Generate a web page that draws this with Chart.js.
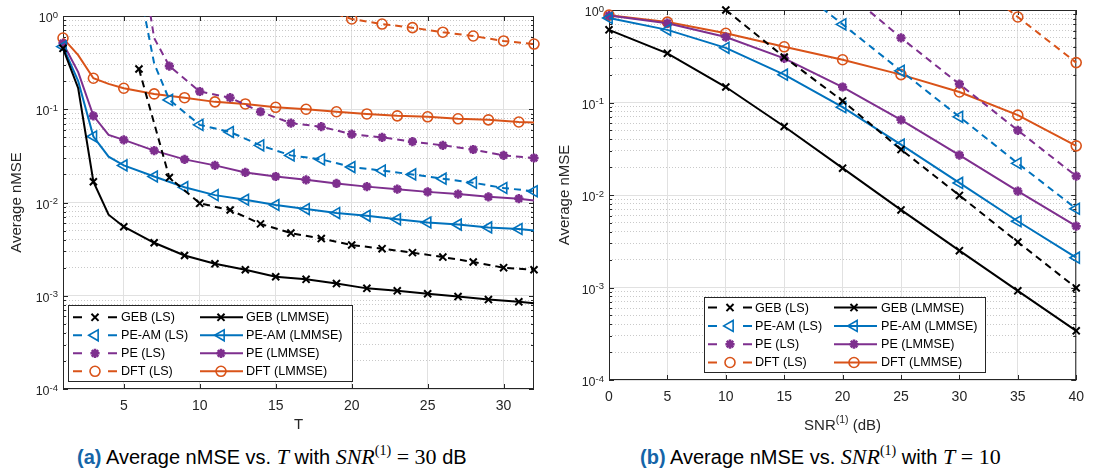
<!DOCTYPE html>
<html>
<head>
<meta charset="utf-8">
<title>Average nMSE</title>
<script src="https://cdn.jsdelivr.net/npm/chart.js@4.4.1/dist/chart.umd.min.js"></script>
<style>
  body { margin: 0; background: #fff; }
  #page { position: relative; width: 1093px; height: 472px; overflow: hidden; background: #fff; }
  .plot { position: absolute; top: 0; height: 440px; }
  .cap { position: absolute; top: 446px; font: 20px 'Liberation Sans', Arial, sans-serif; color: #000; white-space: nowrap; line-height: 22px; }
  .cap b { color: #1565a8; }
  .cap .m { font-family: 'Liberation Serif', 'DejaVu Serif', serif; font-style: italic; font-size: 22px; }
  .cap .s { font-family: 'Liberation Serif', serif; font-size: 14px; position: relative; top: -9px; }
  .cap .r { font-family: 'Liberation Serif', serif; font-size: 22px; }
</style>
</head>
<body>
<div id="page">
  <div class="plot" style="left:0;width:548px"><canvas id="left"></canvas></div>
  <div class="plot" style="left:548px;width:545px"><canvas id="right"></canvas></div>
  <div class="cap" style="left:77px"><b>(a)</b> Average nMSE vs. <span class="m">T</span> with <span class="m">SNR</span><span class="s">(1)</span> <span class="r">= 30</span> dB</div>
  <div class="cap" style="left:640px"><b>(b)</b> Average nMSE vs. <span class="m">SNR</span><span class="s">(1)</span> with <span class="m">T</span> <span class="r">= 10</span></div>
</div>
<script>
// x values
const tValues = [1, 2, 3, 4, 5, 6, 7, 8, 9, 10, 11, 12, 13, 14, 15, 16,
                 17, 18, 19, 20, 21, 22, 23, 24, 25, 26, 27, 28, 29, 30, 31, 32];
const snrValues = [0, 5, 10, 15, 20, 25, 30, 35, 40];

// tick labels
const tTicks = [5, 10, 15, 20, 25, 30];
const snrTicks = [0, 5, 10, 15, 20, 25, 30, 35, 40];
const decadeExps = [-4, -3, -2, -1, 0];

// (a) nMSE vs T, SNR = 30 dB  (null = not read / off the plot)
const gebLsT = [null, null, null, null, null, 0.27, null, 0.0185, null, 0.0098, null, 0.0083, null, 0.0059, null, 0.0047,
                null, 0.0041, null, 0.0035, null, 0.0032, null, 0.0029, null, 0.0026, null, 0.0023, null, 0.0020, null, 0.0019];
const peamLsT = [null, null, null, null, null, 2.1, 0.31, 0.126, null, 0.068, null, 0.057, null, 0.041, null, 0.032,
                 null, 0.029, null, 0.024, null, 0.022, null, 0.020, null, 0.018, null, 0.0163, null, 0.0143, null, 0.0132];
const peLsT = [null, null, null, null, null, 6, 0.58, 0.29, null, 0.155, null, 0.133, null, 0.094, null, 0.071,
               null, 0.065, null, 0.054, null, 0.050, null, 0.045, null, 0.041, null, 0.037, null, 0.032, null, 0.030];
const dftLsT = [null, null, null, null, null, null, null, null, null, null, null, null, null, null, null, null,
                null, null, 1.05, 0.93, null, 0.82, null, 0.75, null, 0.67, null, 0.61, null, 0.54, null, 0.50];
const gebLmmseT = [0.45, 0.168, 0.0167, 0.0074, 0.0055, null, 0.0037, null, 0.0027, null, 0.0022, null, 0.0019, null, 0.0016, null,
                   0.0015, null, 0.00135, null, 0.0012, null, 0.00113, null, 0.00105, null, 0.00098, null, 0.00091, null, 0.00086, 0.00083];
const peamLmmseT = [0.47, 0.20, 0.051, 0.031, 0.025, null, 0.019, null, 0.0146, null, 0.012, null, 0.0107, null, 0.0094, null,
                    0.0085, null, 0.0077, null, 0.0072, null, 0.0066, null, 0.0061, null, 0.0058, null, 0.0054, null, 0.0052, 0.0050];
const peLmmseT = [0.51, 0.25, 0.085, 0.053, 0.047, null, 0.036, null, 0.029, null, 0.025, null, 0.021, null, 0.019, null,
                  0.0175, null, 0.016, null, 0.0148, null, 0.0139, null, 0.013, null, 0.0123, null, 0.0115, null, 0.011, 0.0105];
const dftLmmseT = [0.58, 0.38, 0.215, 0.187, 0.168, null, 0.146, null, 0.133, null, 0.12, null, 0.114, null, 0.105, null,
                   0.10, null, 0.094, null, 0.089, null, 0.085, null, 0.083, null, 0.079, null, 0.077, null, 0.073, 0.072];

// (b) nMSE vs SNR, T = 10
const gebLsS = [null, null, 1.0, 0.31, 0.104, 0.031, 0.0099, 0.0031, 0.00099];
const peamLsS = [null, null, null, 2.2, 0.70, 0.22, 0.070, 0.022, 0.0071];
const peLsS = [null, null, null, null, 1.7, 0.50, 0.158, 0.050, 0.016];
const dftLsS = [null, null, null, null, null, null, 2.6, 0.84, 0.27];
const gebLmmseS = [0.61, 0.34, 0.147, 0.055, 0.0195, 0.0069, 0.0025, 0.00092, 0.00034];
const peamLmmseS = [0.82, 0.61, 0.39, 0.20, 0.089, 0.035, 0.0135, 0.0052, 0.0021];
const peLmmseS = [0.87, 0.72, 0.51, 0.30, 0.147, 0.065, 0.027, 0.011, 0.0046];
const dftLmmseS = [0.88, 0.74, 0.56, 0.40, 0.29, 0.20, 0.13, 0.073, 0.034];

const BLACK = '#000000', BLUE = '#0072BD', PURPLE = '#7E2F8E', ORANGE = '#D95319';
const AXIS = '#262626';
const FONT = "'Liberation Sans', Arial, sans-serif";

const markers = {
    'GEB': { pointStyle: 'crossRot', rotation: 0, radius: 5, width: 2 },
    'PE-AM': { pointStyle: 'triangle', rotation: 270, radius: 6.3, width: 1.6 },
    'PE': { pointStyle: 'star', rotation: 0, radius: 4.6, width: 2.6 },
    'DFT': { pointStyle: 'circle', rotation: 0, radius: 5, width: 1.6 }
};

// 1..9 x 10^k for the log axis
const logTicks = [];
decadeExps.forEach(e => {
    const d = Math.pow(10, e);
    if (e === 0) { logTicks.push(1); return; }
    for (let m = 1; m <= 9; m++) logTicks.push(m * d);
});
const isDecade = v => Math.abs(Math.log10(v) - Math.round(Math.log10(v))) < 1e-6;

function series(method, est, color, values, markAt) {
    const mk = markers[method];
    const over = values.some(v => v !== null && v > 1);
    return {
        label: `${method} (${est})`,
        data: values,
        borderColor: color,
        backgroundColor: 'rgba(0,0,0,0)',
        borderWidth: 2,
        borderDash: est === 'LS' ? [7, 5] : [],
        pointStyle: mk.pointStyle,
        pointRotation: mk.rotation,
        pointRadius: ctx => markAt(ctx.dataIndex) ? mk.radius : 0,
        pointBorderWidth: mk.width,
        pointBorderColor: color,
        pointBackgroundColor: 'rgba(0,0,0,0)',
        spanGaps: true,
        tension: 0,
        clip: over ? { left: 12, top: 0, right: 12, bottom: 12 } : 12
    };
}

// draws the matlab style box, inner ticks, 10^k labels, x title and the legend
const matlabLook = {
    id: 'matlabLook',
    beforeDatasetsDraw(chart) {
        const { ctx, chartArea: a, scales: { x, y } } = chart;
        ctx.save();
        ctx.strokeStyle = AXIS;
        ctx.lineWidth = 1;
        ctx.beginPath();
        x.ticks.forEach(t => {
            const px = Math.round(x.getPixelForValue(t.value)) + 0.5;
            ctx.moveTo(px, a.bottom); ctx.lineTo(px, a.bottom - 5);
            ctx.moveTo(px, a.top); ctx.lineTo(px, a.top + 5);
        });
        y.ticks.forEach(t => {
            const py = Math.round(y.getPixelForValue(t.value)) + 0.5;
            const len = isDecade(t.value) ? 5 : 3;
            ctx.moveTo(a.left, py); ctx.lineTo(a.left + len, py);
            ctx.moveTo(a.right, py); ctx.lineTo(a.right - len, py);
        });
        ctx.stroke();
        ctx.strokeRect(a.left + 0.5, a.top + 0.5, a.width - 1, a.height - 1);
        ctx.restore();
    },
    afterDraw(chart, args, opts) {
        const { ctx, chartArea: a, scales: { y } } = chart;
        ctx.save();
        ctx.fillStyle = AXIS;
        ctx.textAlign = 'left';
        ctx.textBaseline = 'alphabetic';
        decadeExps.forEach(e => {
            const py = y.getPixelForValue(Math.pow(10, e));
            const sup = String(e);
            ctx.font = `9.5px ${FONT}`;
            const sw = ctx.measureText(sup).width;
            const xr = a.left - 5;
            ctx.fillText(sup, xr - sw, py + 1.5);
            ctx.font = `12.5px ${FONT}`;
            const bw = ctx.measureText('10').width;
            ctx.fillText('10', xr - sw - bw, py + 6);
        });

        // x title with a superscript part
        if (opts.xTitle) {
            const [main, sup, rest] = opts.xTitle;
            ctx.font = `15px ${FONT}`;
            const w1 = ctx.measureText(main).width, w3 = ctx.measureText(rest).width;
            ctx.font = `10.5px ${FONT}`;
            const w2 = ctx.measureText(sup).width;
            let xx = (a.left + a.right) / 2 - (w1 + w2 + w3) / 2;
            const base = chart.height - 10;
            ctx.font = `15px ${FONT}`;
            ctx.fillText(main, xx, base);
            ctx.font = `10.5px ${FONT}`;
            ctx.fillText(sup, xx + w1, base - 7);
            ctx.font = `15px ${FONT}`;
            ctx.fillText(rest, xx + w1 + w2, base);
        }

        const L = opts.legend;
        const bx = Math.round(a.left + L.left), by = Math.round(a.top + L.top);
        ctx.fillStyle = '#fff';
        ctx.fillRect(bx, by, L.width, L.height);
        ctx.strokeStyle = AXIS;
        ctx.lineWidth = 1;
        ctx.strokeRect(bx + 0.5, by + 0.5, L.width, L.height);
        chart.data.datasets.forEach((ds, i) => {
            const col = L.cols[Math.floor(i / 4)];
            const yy = by + L.rowTop + L.rowStep * (i % 4);
            const x0 = bx + col.x0, x1 = bx + col.x1;
            ctx.strokeStyle = ds.borderColor;
            ctx.lineWidth = ds.borderWidth;
            ctx.setLineDash([]);
            ctx.beginPath();
            if (ds.borderDash.length) {
                ctx.moveTo(x0, yy); ctx.lineTo(x0 + 9, yy);
                ctx.moveTo(x1 - 9, yy); ctx.lineTo(x1, yy);
            } else {
                ctx.moveTo(x0, yy); ctx.lineTo(x1, yy);
            }
            ctx.stroke();
            const mk = markers[ds.label.split(' ')[0]];
            ctx.lineWidth = mk.width;
            ctx.fillStyle = 'rgba(0,0,0,0)';
            Chart.helpers.drawPoint(ctx, {
                pointStyle: mk.pointStyle, rotation: mk.rotation, radius: mk.radius, borderWidth: mk.width
            }, bx + col.mark, yy);
            ctx.fillStyle = '#000';
            ctx.font = `12.6px ${FONT}`;
            ctx.textBaseline = 'middle';
            ctx.fillText(ds.label, bx + col.text, yy + 0.5);
            ctx.textBaseline = 'alphabetic';
        });
        ctx.restore();
    }
};

Chart.defaults.font.family = FONT;
Chart.defaults.color = AXIS;

function yScale(width) {
    return {
        type: 'logarithmic',
        min: 1e-4,
        max: 1,
        afterBuildTicks: s => { s.ticks = logTicks.map(v => ({ value: v })); },
        afterFit: s => { s.width = width; },
        grid: {
            color: c => (c.tick && isDecade(c.tick.value)) ? '#e1e1e1' : '#c9c9c9',
            drawTicks: false
        },
        border: {
            display: false,
            dash: c => (c.tick && !isDecade(c.tick.value)) ? [1, 2] : []
        },
        ticks: { display: false },
        title: { display: true, text: 'Average nMSE', font: { size: 15 }, padding: { top: 8, bottom: 0 } }
    };
}

function xScale(min, max, ticks, height, title) {
    return {
        type: 'linear',
        min: min,
        max: max,
        afterBuildTicks: s => { s.ticks = ticks.map(v => ({ value: v })); },
        afterFit: s => { s.height = height; },
        grid: { color: '#e1e1e1', drawTicks: false },
        border: { display: false },
        ticks: { font: { size: 14 }, padding: 9, maxRotation: 0 },
        title: { display: !!title, text: title, font: { size: 15 }, padding: { top: 0, bottom: 6 } }
    };
}

const oddT = i => i % 2 === 0 && i < 31;   // T = 1, 3, ..., 31
const evenT = i => i % 2 === 1;            // T = 2, 4, ..., 32
const every = () => true;

new Chart(document.getElementById('left'), {
    type: 'line',
    data: {
        labels: tValues,
        datasets: [
            series('GEB', 'LS', BLACK, gebLsT, evenT),
            series('PE-AM', 'LS', BLUE, peamLsT, evenT),
            series('PE', 'LS', PURPLE, peLsT, evenT),
            series('DFT', 'LS', ORANGE, dftLsT, evenT),
            series('GEB', 'LMMSE', BLACK, gebLmmseT, oddT),
            series('PE-AM', 'LMMSE', BLUE, peamLmmseT, oddT),
            series('PE', 'LMMSE', PURPLE, peLmmseT, oddT),
            series('DFT', 'LMMSE', ORANGE, dftLmmseT, oddT)
        ]
    },
    options: {
        responsive: true,
        maintainAspectRatio: false,
        animation: false,
        events: [],
        layout: { padding: { top: 16, right: 14, left: 0, bottom: 0 } },
        scales: {
            x: xScale(1, 32, tTicks, 51, 'T'),
            y: yScale(63)
        },
        plugins: {
            legend: { display: false },
            tooltip: { enabled: false },
            matlabLook: {
                legend: {
                    left: 5, top: 288.5, width: 284, height: 76, rowTop: 12.3, rowStep: 18,
                    cols: [{ x0: 5, x1: 49, mark: 27, text: 53 }, { x0: 132, x1: 175, mark: 153, text: 178 }]
                }
            }
        }
    },
    plugins: [matlabLook]
});

new Chart(document.getElementById('right'), {
    type: 'line',
    data: {
        labels: snrValues,
        datasets: [
            series('GEB', 'LS', BLACK, gebLsS, every),
            series('PE-AM', 'LS', BLUE, peamLsS, every),
            series('PE', 'LS', PURPLE, peLsS, every),
            series('DFT', 'LS', ORANGE, dftLsS, every),
            series('GEB', 'LMMSE', BLACK, gebLmmseS, every),
            series('PE-AM', 'LMMSE', BLUE, peamLmmseS, every),
            series('PE', 'LMMSE', PURPLE, peLmmseS, every),
            series('DFT', 'LMMSE', ORANGE, dftLmmseS, every)
        ]
    },
    options: {
        responsive: true,
        maintainAspectRatio: false,
        animation: false,
        events: [],
        layout: { padding: { top: 10, right: 14, left: 0, bottom: 0 } },
        scales: {
            x: xScale(0, 40, snrTicks, 60, ''),
            y: yScale(61)
        },
        plugins: {
            legend: { display: false },
            tooltip: { enabled: false },
            matlabLook: {
                xTitle: ['SNR', '(1)', ' (dB)'],
                legend: {
                    left: 95, top: 286.7, width: 281, height: 75, rowTop: 10.6, rowStep: 18.3,
                    cols: [{ x0: 4, x1: 48, mark: 26, text: 51 }, { x0: 130, x1: 173, mark: 150, text: 177 }]
                }
            }
        }
    },
    plugins: [matlabLook]
});
</script>
</body>
</html>
